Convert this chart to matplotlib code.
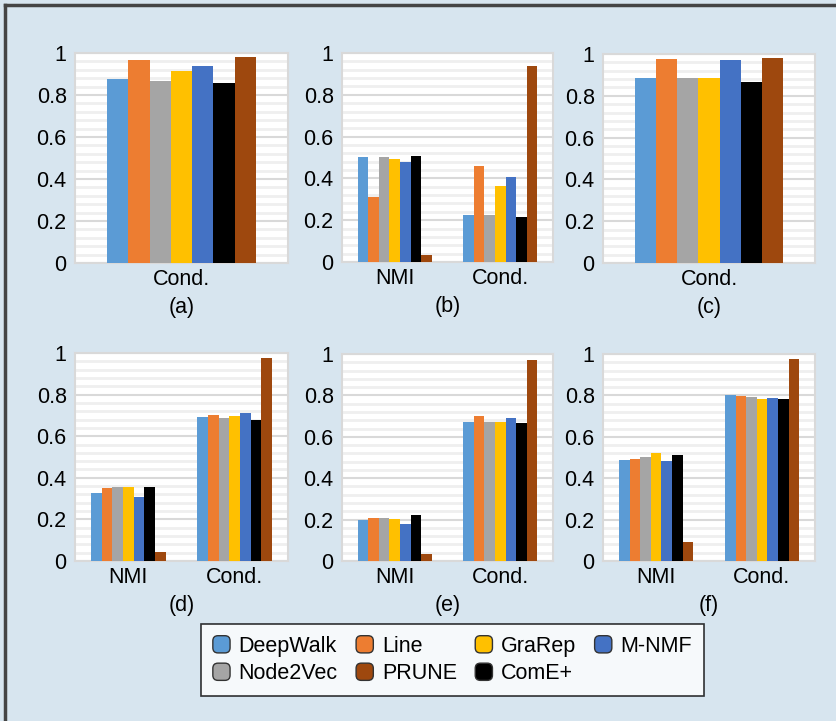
import matplotlib
matplotlib.use("Agg")
import matplotlib.pyplot as plt
from matplotlib.patches import FancyBboxPatch, Patch
from matplotlib.legend_handler import HandlerPatch
from matplotlib.lines import Line2D
from matplotlib.ticker import MultipleLocator

plt.rcParams['font.family'] = ['Liberation Sans', 'DejaVu Sans']

methods = ['DeepWalk', 'Line', 'Node2Vec', 'GraRep', 'M-NMF', 'ComE+', 'PRUNE']
colors = ['#5b9bd5', '#ed7d31', '#a5a5a5', '#ffc000', '#4472c4', '#000000', '#9e480e']

# one row per method, one column per metric
panel_a = [[0.876], [0.965], [0.865], [0.913], [0.938], [0.856], [0.981]]
panel_b = [[0.501, 0.226], [0.309, 0.459], [0.501, 0.226], [0.494, 0.364],
           [0.480, 0.407], [0.506, 0.215], [0.032, 0.936]]
panel_c = [[0.883], [0.976], [0.883], [0.883], [0.971], [0.866], [0.982]]
panel_d = [[0.328, 0.691], [0.349, 0.701], [0.357, 0.686], [0.357, 0.696],
           [0.309, 0.712], [0.355, 0.677], [0.045, 0.974]]
panel_e = [[0.198, 0.671], [0.210, 0.702], [0.210, 0.671], [0.205, 0.671],
           [0.177, 0.692], [0.221, 0.665], [0.035, 0.973]]
panel_f = [[0.489, 0.802], [0.495, 0.797], [0.502, 0.792], [0.521, 0.781],
           [0.484, 0.786], [0.510, 0.781], [0.090, 0.976]]

cats_one = ['Cond.']
cats_two = ['NMI', 'Cond.']

panels = [
    ('(a)', cats_one, panel_a, (75, 53, 213, 210)),
    ('(b)', cats_two, panel_b, (342, 53, 211, 209)),
    ('(c)', cats_one, panel_c, (603, 54, 212, 209)),
    ('(d)', cats_two, panel_d, (75, 353, 213, 208)),
    ('(e)', cats_two, panel_e, (342, 354, 211, 207)),
    ('(f)', cats_two, panel_f, (603, 354, 212, 207)),
]

W, H = 836, 721
fig = plt.figure(figsize=(W / 100, H / 100), dpi=100)
fig.patch.set_facecolor('#d7e5ef')

# frame lines top and left
fig.add_artist(Line2D([5 / W, 1], [1 - 5 / H, 1 - 5 / H], color='#444444', lw=2.5))
fig.add_artist(Line2D([5 / W, 5 / W], [0, 1 - 5 / H], color='#444444', lw=2.5))

group = 0.7
bw = group / len(methods)
fs = 15.5

for label, cats, vals, (x0, y0, w, h) in panels:
    ax = fig.add_axes([x0 / W, 1 - (y0 + h) / H, w / W, h / H])
    ax.set_facecolor('white')
    for k, m in enumerate(methods):
        xs = [i - group / 2 + bw * (k + 0.5) for i in range(len(cats))]
        ax.bar(xs, vals[k], width=bw, color=colors[k], zorder=3)
    ax.set_xlim(-0.5, len(cats) - 0.5)
    ax.set_ylim(0, 1)
    ax.yaxis.set_minor_locator(MultipleLocator(0.04))
    ax.set_yticks([0, 0.2, 0.4, 0.6, 0.8, 1.0])
    ax.set_yticklabels(['0', '0.2', '0.4', '0.6', '0.8', '1'])
    ax.set_xticks(range(len(cats)))
    ax.set_xticklabels(cats)
    ax.grid(True, which='major', axis='y', color='#d9d9d9', lw=1.5, zorder=1)
    ax.grid(True, which='minor', axis='y', color='#efefef', lw=2, zorder=0)
    ax.tick_params(axis='both', which='both', length=0, labelsize=fs)
    ax.tick_params(axis='y', pad=6)
    ax.tick_params(axis='x', pad=4)
    for s in ax.spines.values():
        s.set_color('#d9d9d9')
        s.set_linewidth(1.5)
    ax.text(0.5, -44 / h, label, transform=ax.transAxes, ha='center', va='center',
            fontsize=fs)


class RoundBox(HandlerPatch):
    def create_artists(self, legend, orig_handle, xdescent, ydescent, width,
                       height, fontsize, trans):
        s = width
        p = FancyBboxPatch((-xdescent, -ydescent + (height - s) / 2),
                           s, s, boxstyle='round,pad=0,rounding_size=%f' % (s * 0.3),
                           facecolor=orig_handle.get_facecolor(),
                           edgecolor='#333333', lw=1, transform=trans)
        return [p]


order = ['DeepWalk', 'Node2Vec', 'Line', 'PRUNE', 'GraRep', 'ComE+', 'M-NMF']
handles = [Patch(facecolor=colors[methods.index(m)], label=m) for m in order]
leg = fig.legend(handles=handles, labels=order, ncol=4, loc='upper left',
                 bbox_to_anchor=(201 / W, 1 - 624 / H), frameon=True,
                 fancybox=False, edgecolor='black', fontsize=fs,
                 handler_map={Patch: RoundBox()}, handlelength=0.8,
                 handletextpad=0.4, columnspacing=0.85, labelspacing=0.3,
                 borderpad=0.55, borderaxespad=0)
leg.get_frame().set_linewidth(1.2)

fig.savefig('out.png', dpi=100, facecolor=fig.get_facecolor())
